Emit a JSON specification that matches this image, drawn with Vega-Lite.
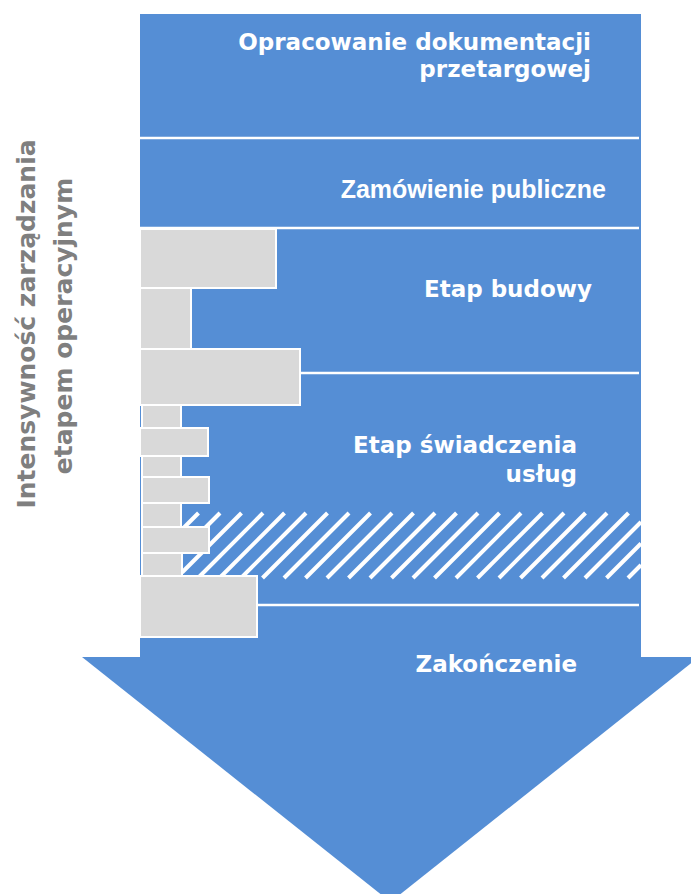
{
  "$schema": "https://vega.github.io/schema/vega-lite/v6.json",
  "width": 691,
  "height": 894,
  "autosize": {"type": "fit", "contains": "padding"},
  "padding": 0,
  "background": "white",
  "config": {"view": {"stroke": null}},
  "datasets": {
    "body": [{"x": 140, "x2": 641, "y": 14, "y2": 660}],
    "head": [
      {"x": 82, "y": 657, "y2": 657},
      {"x": 390.5, "y": 657, "y2": 902},
      {"x": 699, "y": 657, "y2": 657}
    ],
    "hatch": [
      {"x": 182, "y": 529.5, "x2": 198.5, "y2": 513},
      {"x": 182, "y": 551, "x2": 220, "y2": 513},
      {"x": 182, "y": 572.5, "x2": 241.5, "y2": 513},
      {"x": 198, "y": 578, "x2": 263, "y2": 513},
      {"x": 219.5, "y": 578, "x2": 284.5, "y2": 513},
      {"x": 241, "y": 578, "x2": 306, "y2": 513},
      {"x": 262.5, "y": 578, "x2": 327.5, "y2": 513},
      {"x": 284, "y": 578, "x2": 349, "y2": 513},
      {"x": 305.5, "y": 578, "x2": 370.5, "y2": 513},
      {"x": 327, "y": 578, "x2": 392, "y2": 513},
      {"x": 348.5, "y": 578, "x2": 413.5, "y2": 513},
      {"x": 370, "y": 578, "x2": 435, "y2": 513},
      {"x": 391.5, "y": 578, "x2": 456.5, "y2": 513},
      {"x": 413, "y": 578, "x2": 478, "y2": 513},
      {"x": 434.5, "y": 578, "x2": 499.5, "y2": 513},
      {"x": 456, "y": 578, "x2": 521, "y2": 513},
      {"x": 477.5, "y": 578, "x2": 542.5, "y2": 513},
      {"x": 499, "y": 578, "x2": 564, "y2": 513},
      {"x": 520.5, "y": 578, "x2": 585.5, "y2": 513},
      {"x": 542, "y": 578, "x2": 607, "y2": 513},
      {"x": 563.5, "y": 578, "x2": 628.5, "y2": 513},
      {"x": 585, "y": 578, "x2": 641, "y2": 522},
      {"x": 606.5, "y": 578, "x2": 641, "y2": 543.5},
      {"x": 628, "y": 578, "x2": 641, "y2": 565}
    ],
    "separators": [
      {"x": 140, "x2": 639, "y": 138},
      {"x": 140, "x2": 639, "y": 228},
      {"x": 140, "x2": 639, "y": 373},
      {"x": 140, "x2": 639, "y": 605}
    ],
    "bars": [
      {"x": 140, "x2": 276, "y": 229, "y2": 288},
      {"x": 140, "x2": 191, "y": 288, "y2": 349},
      {"x": 140, "x2": 300, "y": 349, "y2": 405},
      {"x": 142, "x2": 181, "y": 405, "y2": 428},
      {"x": 140, "x2": 208, "y": 428, "y2": 456},
      {"x": 142, "x2": 181, "y": 456, "y2": 477},
      {"x": 142, "x2": 209, "y": 477, "y2": 503},
      {"x": 142, "x2": 181, "y": 503, "y2": 527},
      {"x": 142, "x2": 209, "y": 527, "y2": 553},
      {"x": 142, "x2": 182, "y": 553, "y2": 576},
      {"x": 140, "x2": 257, "y": 576, "y2": 637}
    ],
    "labels": [
      {"x": 591, "y": 50, "label": "Opracowanie dokumentacji"},
      {"x": 591, "y": 77, "label": "przetargowej"},
      {"x": 592, "y": 297, "label": "Etap budowy"},
      {"x": 577, "y": 453, "label": "Etap świadczenia"},
      {"x": 577, "y": 482, "label": "usług"},
      {"x": 577, "y": 672, "label": "Zakończenie"}
    ],
    "labelsArial": [
      {"x": 606, "y": 198, "label": "Zamówienie publiczne"}
    ],
    "side": [
      {"x": 35, "y": 324, "label": "Intensywność zarządzania"},
      {"x": 72, "y": 326, "label": "etapem operacyjnym"}
    ]
  },
  "layer": [
    {
      "data": {"name": "body"},
      "mark": {"type": "rect", "fill": "#558ED5"},
      "encoding": {
        "x": {"field": "x", "type": "quantitative", "scale": {"domain": [0, 691], "nice": false, "zero": false}, "axis": null},
        "x2": {"field": "x2"},
        "y": {"field": "y", "type": "quantitative", "scale": {"domain": [0, 894], "nice": false, "zero": false, "reverse": true}, "axis": null},
        "y2": {"field": "y2"}
      }
    },
    {
      "data": {"name": "head"},
      "mark": {"type": "area", "fill": "#558ED5", "clip": true, "orient": "vertical"},
      "encoding": {
        "x": {"field": "x", "type": "quantitative"},
        "y": {"field": "y", "type": "quantitative"},
        "y2": {"field": "y2"}
      }
    },
    {
      "data": {"name": "hatch"},
      "mark": {"type": "rule", "stroke": "white", "strokeWidth": 4, "strokeCap": "butt"},
      "encoding": {
        "x": {"field": "x", "type": "quantitative"},
        "x2": {"field": "x2"},
        "y": {"field": "y", "type": "quantitative"},
        "y2": {"field": "y2"}
      }
    },
    {
      "data": {"name": "separators"},
      "mark": {"type": "rule", "stroke": "white", "strokeWidth": 2.5},
      "encoding": {
        "x": {"field": "x", "type": "quantitative"},
        "x2": {"field": "x2"},
        "y": {"field": "y", "type": "quantitative"}
      }
    },
    {
      "data": {"name": "bars"},
      "mark": {"type": "rect", "fill": "#D9D9D9", "stroke": "white", "strokeWidth": 2},
      "encoding": {
        "x": {"field": "x", "type": "quantitative"},
        "x2": {"field": "x2"},
        "y": {"field": "y", "type": "quantitative"},
        "y2": {"field": "y2"}
      }
    },
    {
      "data": {"name": "labels"},
      "mark": {"type": "text", "align": "right", "baseline": "alphabetic", "font": "DejaVu Sans", "fontWeight": "bold", "fontSize": 23, "fill": "white"},
      "encoding": {
        "x": {"field": "x", "type": "quantitative"},
        "y": {"field": "y", "type": "quantitative"},
        "text": {"field": "label"}
      }
    },
    {
      "data": {"name": "labelsArial"},
      "mark": {"type": "text", "align": "right", "baseline": "alphabetic", "font": "Liberation Sans", "fontWeight": "bold", "fontSize": 25, "fill": "white"},
      "encoding": {
        "x": {"field": "x", "type": "quantitative"},
        "y": {"field": "y", "type": "quantitative"},
        "text": {"field": "label"}
      }
    },
    {
      "data": {"name": "side"},
      "mark": {"type": "text", "align": "center", "baseline": "alphabetic", "angle": 270, "font": "DejaVu Sans", "fontWeight": "bold", "fontSize": 25, "fill": "#7F7F7F"},
      "encoding": {
        "x": {"field": "x", "type": "quantitative"},
        "y": {"field": "y", "type": "quantitative"},
        "text": {"field": "label"}
      }
    }
  ]
}
